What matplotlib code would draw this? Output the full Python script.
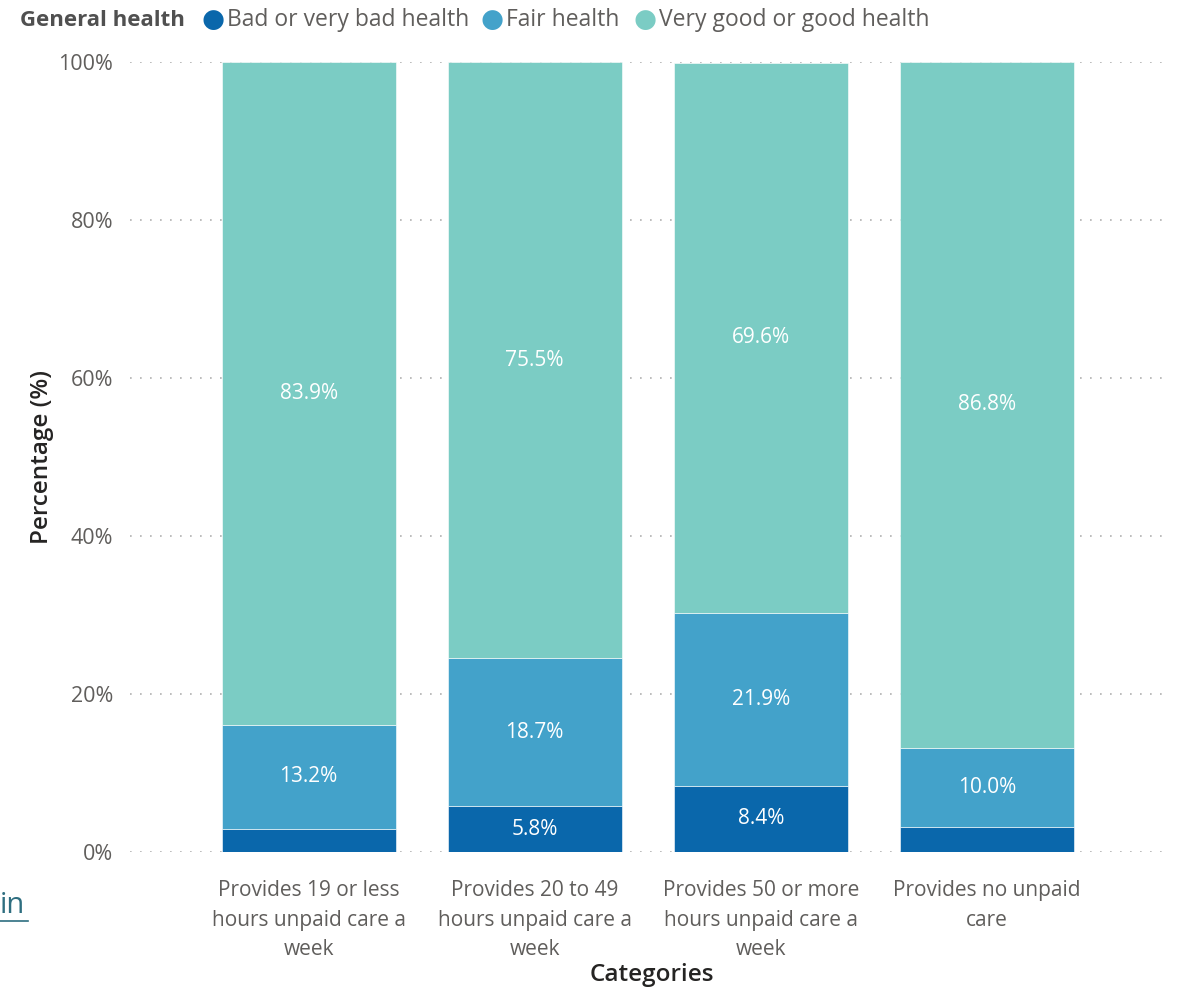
import matplotlib.pyplot as plt
import numpy as np

plt.rcParams['font.family'] = ['Open Sans', 'DejaVu Sans']

categories = ['Provides 19 or less\nhours unpaid care a\nweek',
              'Provides 20 to 49\nhours unpaid care a\nweek',
              'Provides 50 or more\nhours unpaid care a\nweek',
              'Provides no unpaid\ncare']
series = ['Bad or very bad health', 'Fair health', 'Very good or good health']
bad = [2.9, 5.8, 8.4, 3.2]
fair = [13.2, 18.7, 21.9, 10.0]
good = [83.9, 75.5, 69.6, 86.8]
# which segments show a label
show_bad = [False, True, True, False]
yticks = [0, 20, 40, 60, 80, 100]

colors = ['#0A67AB', '#43A2CA', '#7BCCC4']
grey = '#605E5C'

fig = plt.figure(figsize=(11.87, 9.88), dpi=100)
ax = fig.add_axes([130 / 1187, 1 - 852 / 988, 1040 / 1187, 790 / 988])

x = np.arange(len(categories))
w = 0.77
ax.bar(x, bad, w, color=colors[0], edgecolor='white', linewidth=0.4, zorder=3)
ax.bar(x, fair, w, bottom=bad, color=colors[1], edgecolor='white', linewidth=0.4, zorder=3)
bottom2 = np.array(bad) + np.array(fair)
ax.bar(x, good, w, bottom=bottom2, color=colors[2], edgecolor='white', linewidth=0.4, zorder=3)

fs = 15
for i in range(len(x)):
    if show_bad[i]:
        ax.text(x[i], bad[i] / 2, f'{bad[i]:.1f}%', ha='center', va='center',
                color='white', fontsize=fs)
    ax.text(x[i], bad[i] + fair[i] / 2, f'{fair[i]:.1f}%', ha='center', va='center',
            color='white', fontsize=fs)
    ax.text(x[i], bottom2[i] + good[i] / 2, f'{good[i]:.1f}%', ha='center', va='center',
            color='white', fontsize=fs)

ax.set_xlim(-0.79, 3.81)
ax.set_ylim(0, 100)
ax.set_yticks(yticks)
ax.set_yticklabels([f'{t}%' for t in yticks], color=grey, fontsize=15.5)
ax.set_xticks(x)
ax.set_xticklabels(categories, color=grey, fontsize=15, linespacing=1.55)
ax.tick_params(length=0, pad=12)
ax.tick_params(axis='x', pad=20)
ax.yaxis.grid(True, linestyle=(0, (1, 5)), color='#B0B0B0', linewidth=1.2, zorder=0)
for s in ax.spines.values():
    s.set_visible(False)

ax.set_ylabel('Percentage (%)', fontsize=17.5, fontweight='semibold', color='#252423', labelpad=3)
fig.text(652 / 1187, 1 - 975 / 988, 'Categories', ha='center', va='center',
         fontsize=17.5, fontweight='semibold', color='#252423')

# legend row
ly = 1 - 20 / 988
fig.text(20 / 1187, ly, 'General health', ha='left', va='center', fontsize=16,
         fontweight='bold', color='#505050')
lx = [213, 492, 645]
for px, lab, c in zip(lx, series, colors):
    fig.text(px / 1187, ly, '\u25CF', ha='center', va='center', fontsize=19, color=c)
    fig.text((px + 14) / 1187, ly, lab, ha='left', va='center', fontsize=16.5, color=grey)

# stray link text at left edge
fig.text(0, 1 - 905 / 988, 'in', ha='left', va='center', fontsize=21, color='#2E6E80')
fig.add_artist(plt.Line2D([0, 28 / 1187], [1 - 921 / 988, 1 - 921 / 988], color='#2E6E80', linewidth=1.2))

fig.savefig('out.png', dpi=100)
